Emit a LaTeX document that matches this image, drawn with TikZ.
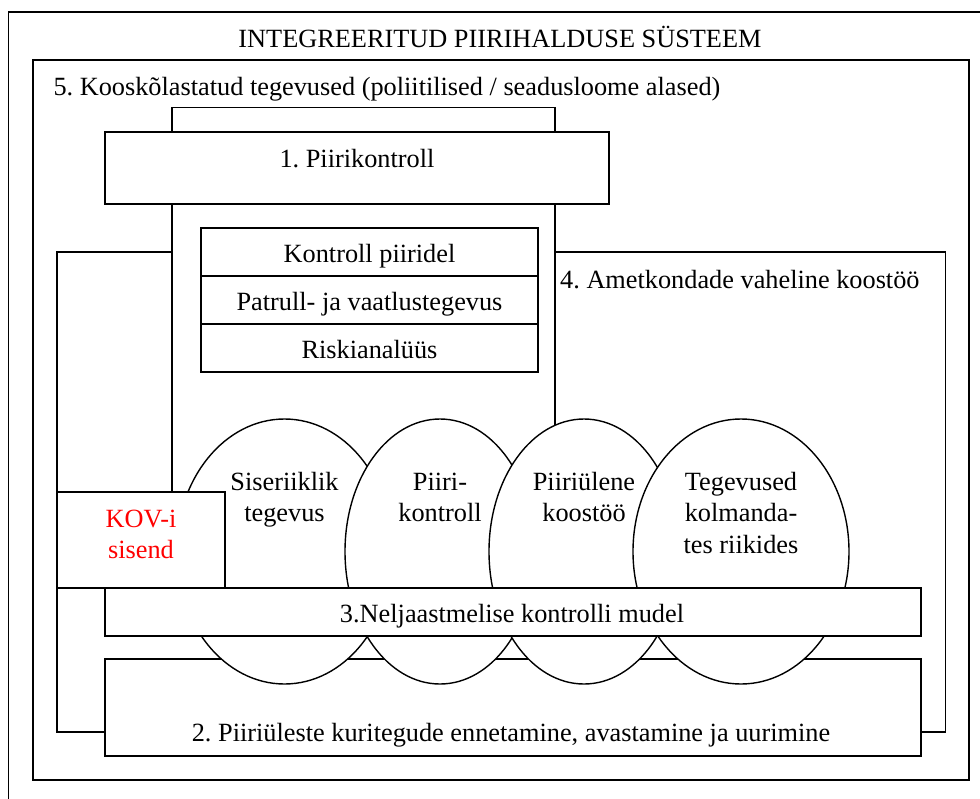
\documentclass[tikz,border=0pt]{standalone}
\usepackage{fontspec}
\setmainfont{Liberation Serif}
\definecolor{kovred}{RGB}{255,0,0}
\begin{document}
\frenchspacing
\begin{tikzpicture}[x=1pt,y=-1pt,
  boxline/.style={draw=black,line width=1.9pt,fill=white},
  thinline/.style={draw=black,line width=1.2pt,fill=white},
  ovalshape/.style={draw=black,line width=1.4pt,fill=white},
  lbl/.style={inner sep=0pt,anchor=base,font=\fontsize{26.3}{31.5}\selectfont\frenchspacing},
  lblw/.style={lbl,anchor=base west}]
\useasboundingbox (0,0) rectangle (980,798);
\fill[white] (0,0) rectangle (980,798);
% outer frame
\draw[line width=1.9pt] (8.5,11.7) rectangle (1000,830);
% box 5
\path[boxline] (32.7,60) rectangle (969,780);
% box 4
\path[boxline] (57,252) rectangle (945.5,732);
% tall rectangle behind box 1
\path[thinline] (172,107.5) rectangle (555,610);
% box 1 header
\path[boxline] (105,132) rectangle (609,204);
% sub boxes
\path[boxline] (201,228) rectangle (538,276);
\path[boxline] (201,276) rectangle (538,324);
\path[boxline] (201,324) rectangle (538,372);
% box 2
\path[boxline] (105,659) rectangle (921,756);
% ellipses
\path[ovalshape] (284.5,551.5) ellipse [x radius=108, y radius=132.5];
\path[ovalshape] (440,551.5) ellipse [x radius=95, y radius=132.5];
\path[ovalshape] (584,551.5) ellipse [x radius=95, y radius=132.5];
\path[ovalshape] (741,551.5) ellipse [x radius=108, y radius=132.5];
% KOV box
\path[boxline] (57,492) rectangle (225,588);
% box 3
\path[boxline] (105,588) rectangle (921,636);
% texts
\node[lbl] (title) at (500,47.5) {INTEGREERITUD PIIRIHALDUSE SÜSTEEM};
\node[lblw] (t5) at (53.3,95) {5. Kooskõlastatud tegevused (poliitilised / seadusloome alased)};
\node[lbl] (t1) at (357,167.5) {1. Piirikontroll};
\node[lbl] (k1) at (369.5,262) {Kontroll piiridel};
\node[lbl] (k2) at (369.5,310) {Patrull- ja vaatlustegevus};
\node[lbl] (k3) at (369.5,358) {Riskianalüüs};
\node[lblw] (t4) at (560,288) {4. Ametkondade vaheline koostöö};
\node[lbl,text=kovred] (kov) at (141,527) {\begin{tabular}[t]{@{}c@{}}KOV-i\\sisend\end{tabular}};
\node[lbl] (e1) at (284.5,490) {\begin{tabular}[t]{@{}c@{}}Siseriiklik\\tegevus\end{tabular}};
\node[lbl] (e2) at (440,490) {\begin{tabular}[t]{@{}c@{}}Piiri-\\kontroll\end{tabular}};
\node[lbl] (e3) at (584,490) {\begin{tabular}[t]{@{}c@{}}Piiriülene\\koostöö\end{tabular}};
\node[lbl] (e4) at (741,490) {\begin{tabular}[t]{@{}c@{}}Tegevused\\kolmanda-\\tes riikides\end{tabular}};
\node[lbl] (t3) at (512,622.7) {3.Neljaastmelise kontrolli mudel};
\node[lbl] (t2) at (511,741) {2. Piiriüleste kuritegude ennetamine, avastamine ja uurimine};
\end{tikzpicture}
\end{document}
